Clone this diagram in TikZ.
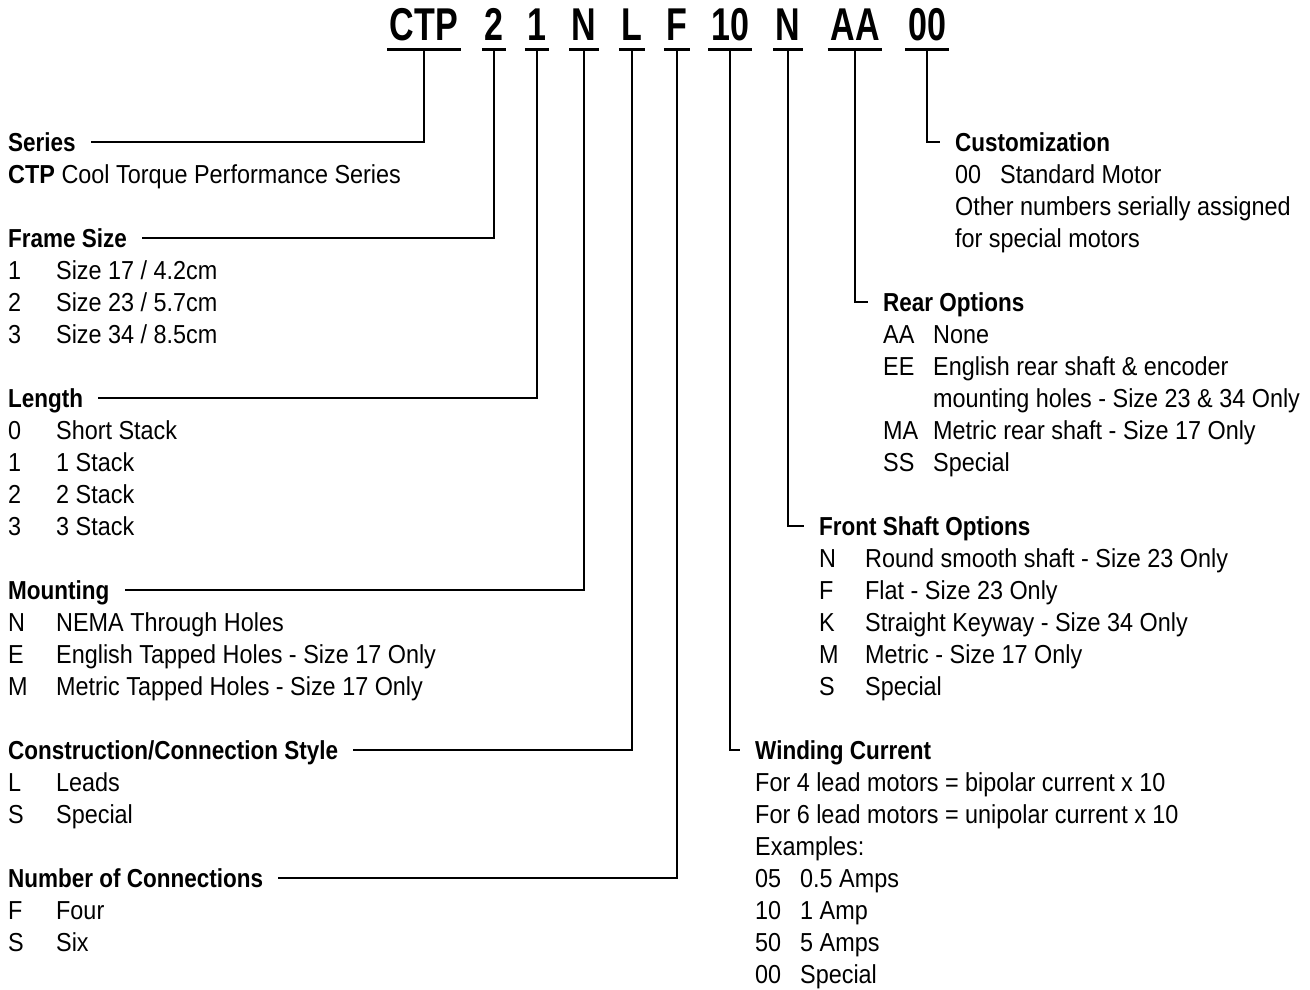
\documentclass[tikz,border=0pt]{standalone}
\usepackage{fontspec}
\usepackage{array}
\usepackage{tikz}

\newfontfamily\bodyfam[FakeStretch=0.9]{Liberation Sans}
\newfontfamily\headfam[FakeStretch=0.865]{Liberation Sans}
\newfontfamily\titlefam[FakeStretch=0.74]{Liberation Sans}
\newcommand\bodyfont{\bodyfam\fontsize{26}{32}\selectfont}
\newcommand\headfont{\headfam\bfseries\fontsize{26}{32}\selectfont}
\newcommand\titlefont{\titlefam\bfseries\fontsize{46}{46}\selectfont}

\begin{document}
\begin{tikzpicture}[x=1pt,y=-1pt,
        part/.style={font=\titlefont,inner xsep=2.5pt,inner ysep=0pt,text depth=9pt,anchor=base},
        head/.style={font=\headfont,inner xsep=15pt,inner ysep=0pt,text height=18pt,text depth=0pt,anchor=base west},
        list/.style={font=\bodyfont,inner sep=0pt,anchor=base west},
        lead/.style={line width=2pt},
        bar/.style={line width=3pt}]
    \useasboundingbox (0,0) rectangle (1310,989);

    % part number
    \node[part] (pseries)  at (424,40) {CTP};
    \node[part] (pframe)   at (494,40) {2};
    \node[part] (plength)  at (537,40) {1};
    \node[part] (pmount)   at (584,40) {N};
    \node[part] (pstyle)   at (632,40) {L};
    \node[part] (pconn)    at (677,40) {F};
    \node[part] (pcurrent) at (730,40) {10};
    \node[part] (pshaft)   at (788,40) {N};
    \node[part] (prear)    at (855,40) {AA};
    \node[part] (pcustom)  at (927,40) {00};
    \foreach \p in {pseries,pframe,plength,pmount,pstyle,pconn,pcurrent,pshaft,prear,pcustom}
        \draw[bar] (\p.south west) -- (\p.south east);

    % left column
    \node[head] (hseries) at (-7,151) {Series};
    \node[list] (lseries) at (8,183) {\textbf{CTP} Cool Torque Performance Series};

    \node[head] (hframe) at (-7,247) {Frame Size};
    \node[list] (lframe) at (8,279) {\begin{tabular}[t]{@{}p{48pt}@{}l@{}}
        1 & Size 17 / 4.2cm\\
        2 & Size 23 / 5.7cm\\
        3 & Size 34 / 8.5cm
    \end{tabular}};

    \node[head] (hlength) at (-7,407) {Length};
    \node[list] (llength) at (8,439) {\begin{tabular}[t]{@{}p{48pt}@{}l@{}}
        0 & Short Stack\\
        1 & 1 Stack\\
        2 & 2 Stack\\
        3 & 3 Stack
    \end{tabular}};

    \node[head] (hmount) at (-7,599) {Mounting};
    \node[list] (lmount) at (8,631) {\begin{tabular}[t]{@{}p{48pt}@{}l@{}}
        N & NEMA Through Holes\\
        E & English Tapped Holes - Size 17 Only\\
        M & Metric Tapped Holes - Size 17 Only
    \end{tabular}};

    \node[head] (hstyle) at (-7,759) {Construction/Connection Style};
    \node[list] (lstyle) at (8,791) {\begin{tabular}[t]{@{}p{48pt}@{}l@{}}
        L & Leads\\
        S & Special
    \end{tabular}};

    \node[head] (hconn) at (-7,887) {Number of Connections};
    \node[list] (lconn) at (8,919) {\begin{tabular}[t]{@{}p{48pt}@{}l@{}}
        F & Four\\
        S & Six
    \end{tabular}};

    % right column
    \node[head] (hcustom) at (940,151) {Customization};
    \node[list] (lcustom) at (955,183) {\begin{tabular}[t]{@{}p{45pt}@{}l@{}}
        00 & Standard Motor\\
        \multicolumn{2}{@{}l@{}}{Other numbers serially assigned}\\
        \multicolumn{2}{@{}l@{}}{for special motors}
    \end{tabular}};

    \node[head] (hrear) at (868,311) {Rear Options};
    \node[list] (lrear) at (883,343) {\begin{tabular}[t]{@{}p{50pt}@{}l@{}}
        AA & None\\
        EE & English rear shaft \& encoder\\
           & mounting holes - Size 23 \& 34 Only\\
        MA & Metric rear shaft - Size 17 Only\\
        SS & Special
    \end{tabular}};

    \node[head] (hshaft) at (804,535) {Front Shaft Options};
    \node[list] (lshaft) at (819,567) {\begin{tabular}[t]{@{}p{46pt}@{}l@{}}
        N & Round smooth shaft - Size 23 Only\\
        F & Flat - Size 23 Only\\
        K & Straight Keyway - Size 34 Only\\
        M & Metric - Size 17 Only\\
        S & Special
    \end{tabular}};

    \node[head] (hcurrent) at (740,759) {Winding Current};
    \node[list] (lcurrent) at (755,791) {\begin{tabular}[t]{@{}p{45pt}@{}l@{}}
        \multicolumn{2}{@{}l@{}}{For 4 lead motors = bipolar current x 10}\\
        \multicolumn{2}{@{}l@{}}{For 6 lead motors = unipolar current x 10}\\
        \multicolumn{2}{@{}l@{}}{Examples:}\\
        05 & 0.5 Amps\\
        10 & 1 Amp\\
        50 & 5 Amps\\
        00 & Special
    \end{tabular}};

    % leaders
    \draw[lead] (pseries.south) |- (hseries.east);
    \draw[lead] (pframe.south) |- (hframe.east);
    \draw[lead] (plength.south) |- (hlength.east);
    \draw[lead] (pmount.south) |- (hmount.east);
    \draw[lead] (pstyle.south) |- (hstyle.east);
    \draw[lead] (pconn.south) |- (hconn.east);
    \draw[lead] (pcurrent.south) |- (hcurrent.west);
    \draw[lead] (pshaft.south) |- (hshaft.west);
    \draw[lead] (prear.south) |- (hrear.west);
    \draw[lead] (pcustom.south) |- (hcustom.west);
\end{tikzpicture}
\end{document}
